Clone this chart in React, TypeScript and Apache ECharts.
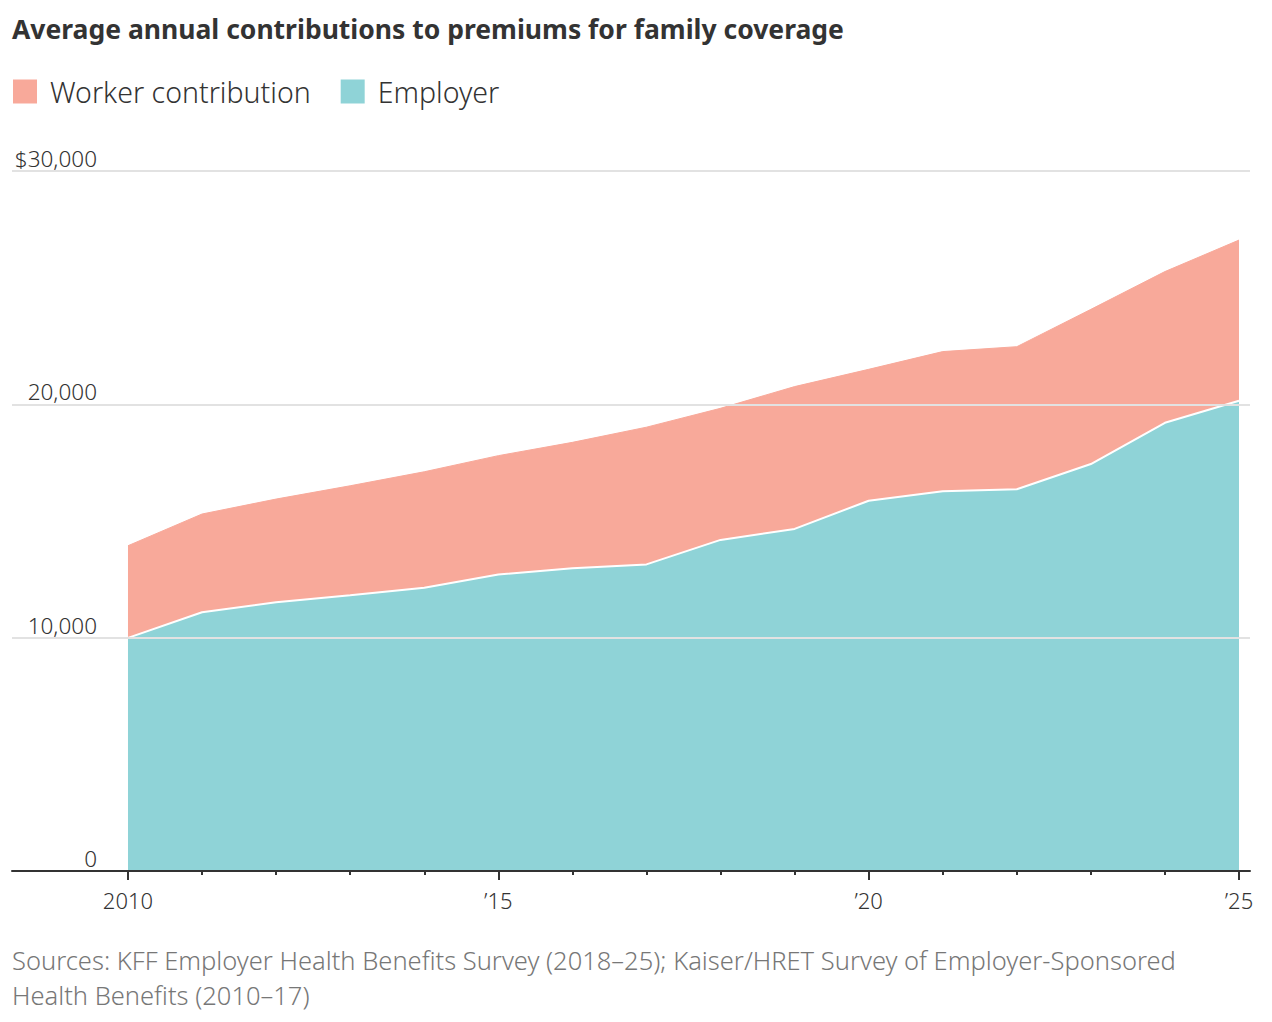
import React, { useEffect, useRef } from "react";
import * as echarts from "echarts";

const years = [2010, 2011, 2012, 2013, 2014, 2015, 2016, 2017, 2018, 2019, 2020, 2021, 2022, 2023, 2024, 2025];
const employer = [9990, 11090, 11520, 11820, 12140, 12710, 12970, 13140, 14190, 14660, 15870, 16280, 16360, 17440, 19210, 20150];
const worker = [3950, 4210, 4420, 4690, 4970, 5090, 5400, 5880, 5640, 6100, 5630, 5980, 6110, 6630, 6480, 6890];
const labelYears = [2010, 2015, 2020, 2025];

const FONT = "'Noto Sans', sans-serif";

export default function App() {
  const ref = useRef<HTMLDivElement>(null);
  useEffect(() => {
    document.body.style.margin = "0";
    const chart = echarts.init(ref.current!, null, { renderer: "svg" });
    const xMin = 2008.434;
    const xMax = 2025.1485;
    const totals = employer.map((e, i) => e + worker[i]);
    chart.setOption({
      animation: false,
      backgroundColor: "#ffffff",
      textStyle: { fontFamily: FONT },
      title: {
        text: "Average annual contributions to premiums for family coverage",
        left: 12,
        top: 15,
        padding: 0,
        textStyle: { fontFamily: FONT, fontSize: 26.5, fontWeight: "bold", color: "#333333" },
      },
      legend: {
        left: 13,
        top: 77,
        padding: 0,
        itemWidth: 24,
        itemHeight: 24,
        itemGap: 30,
        icon: "rect",
        data: ["Worker contribution", "Employer"],
        textStyle: { fontFamily: FONT, fontSize: 28.5, fontWeight: 300, color: "#333333", padding: [0, 0, 0, 8] },
      },
      graphic: [
        {
          type: "text",
          left: 12,
          top: 942,
          style: {
            text: "Sources: KFF Employer Health Benefits Survey (2018\u201325); Kaiser/HRET Survey of Employer-Sponsored\nHealth Benefits (2010\u201317)",
            fontFamily: FONT,
            fontSize: 25.5,
            fontWeight: 300,
            lineHeight: 35,
            fill: "#777777",
          },
        },
      ],
      grid: { left: 12, right: 22, top: 171, bottom: 151, containLabel: false },
      xAxis: [
        {
          type: "value",
          min: xMin,
          max: xMax,
          z: 5,
          axisLine: { show: true, lineStyle: { color: "#333333", width: 2 } },
          axisTick: { show: true, length: 9, lineStyle: { color: "#333333", width: 2 }, customValues: labelYears },
          axisLabel: {
            show: true,
            customValues: labelYears,
            margin: 18,
            fontFamily: FONT,
            fontSize: 22,
            fontWeight: 300,
            color: "#333333",
            formatter: (v: number) => (Math.round(v) === 2010 ? "2010" : "\u2019" + String(Math.round(v)).slice(2)),
          },
          splitLine: { show: false },
        },
        {
          type: "value",
          min: xMin,
          max: xMax,
          position: "bottom",
          z: 5,
          axisLine: { show: false },
          axisTick: { show: true, length: 4, lineStyle: { color: "#333333", width: 2 }, customValues: years },
          axisLabel: { show: false },
          splitLine: { show: false },
        },
      ],
      yAxis: {
        type: "value",
        min: 0,
        max: 30000,
        interval: 10000,
        z: 4,
        axisLine: { show: false },
        axisTick: { show: false },
        splitLine: { show: true, lineStyle: { color: "#e2e2e2", width: 2 } },
        axisLabel: {
          inside: true,
          align: "right",
          verticalAlign: "bottom",
          margin: 85,
          padding: [0, 0, 1, 0],
          fontFamily: FONT,
          fontSize: 22.5,
          fontWeight: 300,
          color: "#333333",
          formatter: (v: number) => (v === 0 ? "0" : (v === 30000 ? "$" : "") + v.toLocaleString("en-US")),
        },
      },
      series: [
        {
          name: "Worker contribution",
          type: "line",
          symbol: "none",
          z: 2,
          color: "#f8a99a",
          lineStyle: { color: "#f8a99a", width: 1 },
          areaStyle: { color: "#f8a99a", opacity: 1 },
          data: years.map((y, i) => [y, totals[i]]),
        },
        {
          name: "Employer",
          type: "line",
          symbol: "none",
          z: 3,
          color: "#8fd3d7",
          lineStyle: { color: "#ffffff", width: 2 },
          areaStyle: { color: "#8fd3d7", opacity: 1 },
          data: years.map((y, i) => [y, employer[i]]),
        },
      ],
    });
    return () => chart.dispose();
  }, []);
  return <div ref={ref} style={{ width: 1272, height: 1022 }} />;
}
